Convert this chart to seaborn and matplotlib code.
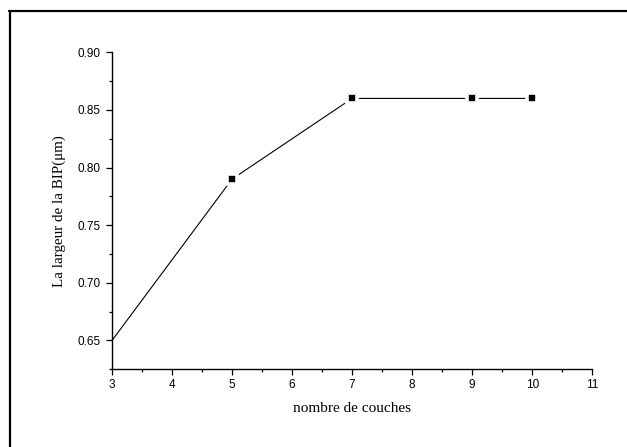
import matplotlib
matplotlib.use("Agg")
import matplotlib.pyplot as plt
from matplotlib.lines import Line2D
from matplotlib.ticker import MultipleLocator
import pandas as pd
import seaborn as sns

# Number of layers vs. BIP width
couches = [3, 5, 7, 9, 10]
largeur = [0.65, 0.79, 0.86, 0.86, 0.86]
x_ticks = [3, 4, 5, 6, 7, 8, 9, 10, 11]
y_ticks = [0.65, 0.70, 0.75, 0.80, 0.85, 0.90]

sns.set_theme(style="ticks")
plt.rcParams["font.family"] = ["Liberation Sans", "DejaVu Sans"]

df = pd.DataFrame({"couches": couches, "largeur": largeur})

fig = plt.figure(figsize=(6.27, 4.47), dpi=100)
ax = fig.add_axes([112 / 627, 1 - 369.3 / 447, (592.3 - 112) / 627, (369.3 - 52.3) / 447])

sns.lineplot(data=df, x="couches", y="largeur", ax=ax, color="black",
             linewidth=0.8, marker="s", markersize=6.8,
             markerfacecolor="black", markeredgecolor="white",
             markeredgewidth=2.6, markevery=[1, 2, 3, 4], clip_on=False)

ax.set_xlim(3, 11)
ax.set_ylim(0.625, 0.90)
ax.set_xticks(x_ticks)
ax.set_yticks(y_ticks)
ax.set_xticklabels([str(v) for v in x_ticks])
ax.set_yticklabels([f"{v:.2f}" for v in y_ticks])
ax.xaxis.set_minor_locator(MultipleLocator(0.5))
ax.yaxis.set_minor_locator(MultipleLocator(0.025))

ax.tick_params(which="major", direction="out", length=4, width=0.9,
               labelsize=8.5, color="black", labelcolor="black")
ax.tick_params(axis="y", which="major", pad=4.5)
ax.tick_params(axis="x", which="major", pad=3)
ax.tick_params(which="minor", direction="out", length=2.2, width=0.9, color="black")

for side in ("top", "right"):
    ax.spines[side].set_visible(False)
for side in ("left", "bottom"):
    ax.spines[side].set_linewidth(1.0)
    ax.spines[side].set_color("black")

ax.set_xlabel("nombre de couches", family=["Liberation Serif", "DejaVu Serif"],
              fontsize=11, color="black", labelpad=8)
ax.set_ylabel("La largeur de la BIP(\u03bcm)", family=["Liberation Serif", "DejaVu Serif"],
              fontsize=10.8, color="black", labelpad=8)

# Page frame along the top and left edges
fig.add_artist(Line2D([9 / 627, 1.0], [1 - 10.5 / 447, 1 - 10.5 / 447],
                      transform=fig.transFigure, color="black", linewidth=1.6))
fig.add_artist(Line2D([9.5 / 627, 9.5 / 627], [0.0, 1 - 10.5 / 447],
                      transform=fig.transFigure, color="black", linewidth=1.6))

fig.savefig("out.png", dpi=100, facecolor="white")
